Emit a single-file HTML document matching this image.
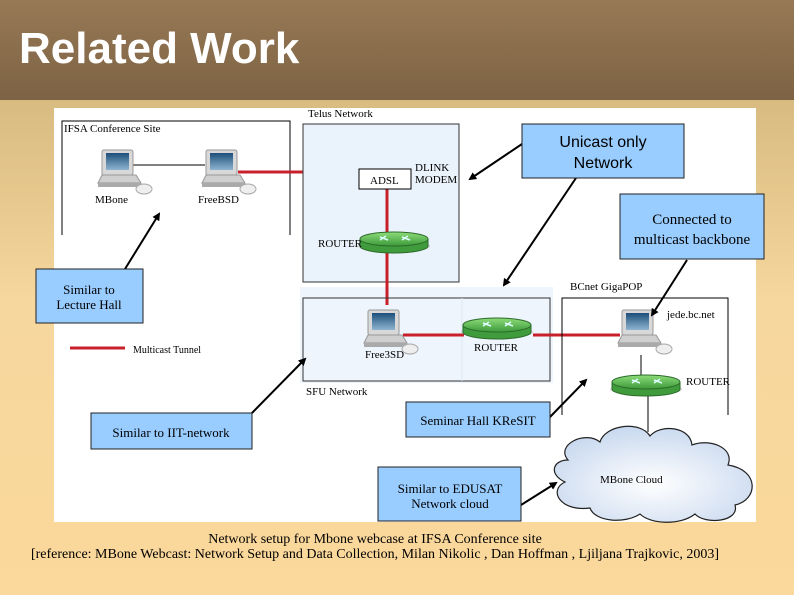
<!DOCTYPE html>
<html><head><meta charset="utf-8"><style>
html,body{margin:0;padding:0}
body{width:794px;height:595px;overflow:hidden;background:linear-gradient(#d8bb80 100px,#f6d79d 300px,#fbd89c);font-family:"Liberation Serif",serif;position:relative}
#hdr{position:absolute;left:0;top:0;width:794px;height:100px;background:linear-gradient(#977955,#7d6344)}
#hdr h1{margin:0;position:absolute;left:19px;top:24px;font:bold 44px "Liberation Sans",sans-serif;color:#fff}
svg{position:absolute;left:0;top:0}
</style></head><body>
<div id="hdr"><h1>Related Work</h1></div>
<svg width="794" height="595" viewBox="0 0 794 595" font-family="Liberation Serif, serif">
<defs>
<linearGradient id="scr" x1="0" y1="0" x2="0" y2="1"><stop offset="0" stop-color="#1d4f7a"/><stop offset="1" stop-color="#8fb4d0"/></linearGradient>
<linearGradient id="grn" x1="0" y1="0" x2="0" y2="1"><stop offset="0" stop-color="#8fdc7a"/><stop offset="1" stop-color="#3c9a3a"/></linearGradient>
<radialGradient id="cl" cx="0.5" cy="0.6" r="0.6"><stop offset="0" stop-color="#fff"/><stop offset="1" stop-color="#c9d9ef"/></radialGradient>
<g id="pc">
<rect x="4" y="0" width="31" height="25" rx="2" fill="#d8d8d8" stroke="#999"/>
<rect x="8" y="3" width="23" height="17" fill="url(#scr)"/>
<path d="M0 33 L4 25 L38 25 L43 33 Z" fill="#cfcfcf" stroke="#999"/>
<rect x="0" y="33" width="43" height="4" fill="#aaa"/>
<ellipse cx="46" cy="39" rx="8" ry="5" fill="#eee" stroke="#aaa"/>
</g>
<g id="rt">
<ellipse cx="34" cy="14" rx="36" ry="7" fill="#999" opacity="0.35"/>
<path d="M0 7 L0 14 A34 7 0 0 0 68 14 L68 7 Z" fill="#3f9b3c" stroke="#2c6b2a"/>
<ellipse cx="34" cy="7" rx="34" ry="7" fill="url(#grn)" stroke="#2c6b2a"/>
<path d="M20 5 l8 3 M26 4 l-6 4 M42 5 l8 3 M48 4 l-6 4" stroke="#dff" stroke-width="1.5"/>
</g>
<marker id="ah" markerWidth="8" markerHeight="8" refX="6" refY="4" orient="auto" markerUnits="userSpaceOnUse"><path d="M0 0 L8 4 L0 8 Z" fill="#000"/></marker>
</defs>
<rect x="54" y="108" width="702" height="414" fill="#fff"/>
<path d="M62 235 V121 H290 V235" fill="none" stroke="#000"/>
<text x="64" y="132" font-size="11">IFSA Conference Site</text>
<line x1="133" y1="165" x2="205" y2="165" stroke="#000"/>
<use href="#pc" x="98" y="150"/>
<use href="#pc" x="202" y="150"/>
<text x="95" y="203" font-size="11">MBone</text>
<text x="198" y="203" font-size="11">FreeBSD</text>
<line x1="238" y1="172" x2="359" y2="172" stroke="#c8202a" stroke-width="3"/>
<text x="308" y="117" font-size="11">Telus Network</text>
<rect x="303" y="124" width="156" height="158" fill="#eaf2fb" stroke="#333"/>
<rect x="300" y="287" width="253" height="96" fill="#eef5fc"/>
<line x1="387" y1="188" x2="387" y2="305" stroke="#c8202a" stroke-width="3"/>
<rect x="359" y="169" width="52" height="20" fill="#fff" stroke="#000"/>
<text x="370" y="184" font-size="11">ADSL</text>
<text x="415" y="171" font-size="11">DLINK</text>
<text x="415" y="183" font-size="11">MODEM</text>
<use href="#rt" x="360" y="232"/>
<text x="318" y="247" font-size="11">ROUTER</text>
<rect x="303" y="298" width="247" height="83" fill="none" stroke="#333"/>
<line x1="462" y1="298" x2="462" y2="381" stroke="#dde8f2"/>
<line x1="403" y1="335" x2="464" y2="335" stroke="#c8202a" stroke-width="3"/>
<line x1="533" y1="335" x2="620" y2="335" stroke="#c8202a" stroke-width="3"/>
<use href="#pc" x="364" y="310"/>
<text x="365" y="358" font-size="11">Free3SD</text>
<use href="#rt" x="463" y="318"/>
<text x="474" y="351" font-size="11">ROUTER</text>
<text x="306" y="395" font-size="11">SFU Network</text>
<path d="M562 415 V298 H728 V415" fill="none" stroke="#000"/>
<text x="570" y="290" font-size="11">BCnet GigaPOP</text>
<line x1="641" y1="355" x2="641" y2="375" stroke="#000"/>
<line x1="648" y1="393" x2="648" y2="432" stroke="#000"/>
<use href="#pc" x="618" y="310"/>
<text x="667" y="318" font-size="11">jede.bc.net</text>
<use href="#rt" x="612" y="375"/>
<text x="686" y="385" font-size="11">ROUTER</text>
<path d="M568 460 C555 445 585 430 600 442 C605 425 640 420 650 436 C660 424 690 426 692 445 C710 438 735 448 728 465 C760 470 758 500 735 505 C740 522 705 525 695 514 C680 526 650 524 640 514 C625 524 595 522 590 508 C560 512 548 490 565 482 C548 474 553 460 568 460 Z" fill="url(#cl)" stroke="#222" stroke-width="1.2"/>
<text x="600" y="483" font-size="11">MBone Cloud</text>
<line x1="70" y1="348" x2="125" y2="348" stroke="#c8202a" stroke-width="3"/>
<text x="133" y="353" font-size="10">Multicast Tunnel</text>
<g stroke="#000" stroke-width="2" marker-end="url(#ah)">
<line x1="125" y1="269" x2="159" y2="214"/>
<line x1="522" y1="144" x2="470" y2="179"/>
<line x1="576" y1="178" x2="504" y2="285"/>
<line x1="687" y1="260" x2="652" y2="315"/>
<line x1="252" y1="413" x2="305" y2="359"/>
<line x1="550" y1="417" x2="586" y2="380"/>
<line x1="521" y1="505" x2="556" y2="483"/>
</g>
<g fill="#99ccff" stroke="#222">
<rect x="522" y="124" width="162" height="54"/>
<rect x="620" y="194" width="144" height="65"/>
<rect x="36" y="269" width="107" height="54"/>
<rect x="91" y="413" width="161" height="36"/>
<rect x="406" y="402" width="144" height="35"/>
<rect x="378" y="467" width="143" height="54"/>
</g>
<g text-anchor="middle">
<text x="603" y="147" font-size="16" font-family="Liberation Sans, sans-serif">Unicast only</text>
<text x="603" y="168" font-size="16" font-family="Liberation Sans, sans-serif">Network</text>
<text x="692" y="224" font-size="15">Connected to</text>
<text x="692" y="244" font-size="15">multicast backbone</text>
<text x="89" y="294" font-size="13">Similar to</text>
<text x="89" y="309" font-size="13">Lecture Hall</text>
<text x="171" y="437" font-size="13">Similar to IIT-network</text>
<text x="478" y="425" font-size="13">Seminar Hall KReSIT</text>
<text x="450" y="493" font-size="13">Similar to EDUSAT</text>
<text x="450" y="508" font-size="13">Network cloud</text>
<text x="375" y="543" font-size="14">Network setup for Mbone webcase at IFSA Conference site</text>
<text x="375" y="558" font-size="14">[reference: MBone Webcast: Network Setup and Data Collection, Milan Nikolic ,  Dan Hoffman , Ljiljana Trajkovic, 2003]</text>
</g>
</svg>
</body></html>
